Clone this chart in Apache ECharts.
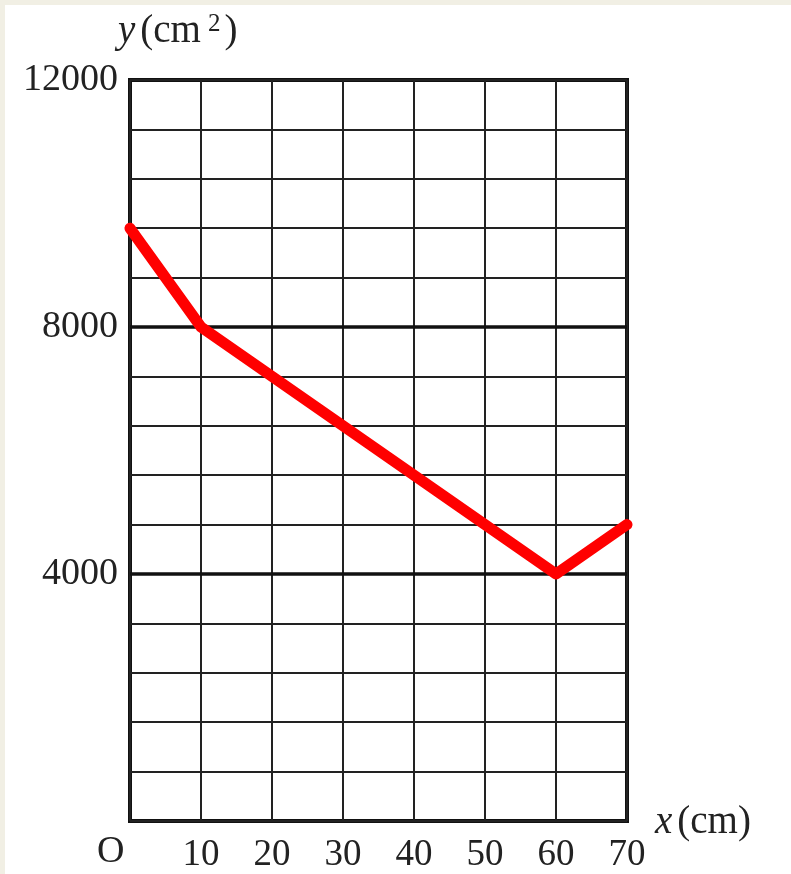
<!DOCTYPE html>
<html><head><meta charset="utf-8">
<script src="https://cdn.jsdelivr.net/npm/echarts@6/dist/echarts.min.js"></script>
<style>html,body{margin:0;padding:0;background:#fff}#c{width:791px;height:874px}</style>
</head><body><div id="c"></div>
<script>
var xValues = [0, 10, 60, 70];
var yValues = [9600, 8000, 4000, 4800];
var xTicks = [10, 20, 30, 40, 50, 60, 70];
var yTickLabels = [4000, 8000, 12000];
var heavyLines = [4000, 8000];

var chart = echarts.init(document.getElementById('c'));
var font = '"Liberation Serif", "DejaVu Serif", serif';
chart.setOption({
  animation: false,
  backgroundColor: '#ffffff',
  grid: {left: 130, right: 164, top: 80, bottom: 53, show: true, borderColor: '#111', borderWidth: 4, backgroundColor: 'transparent'},
  xAxis: {
    type: 'value', min: 0, max: 70, interval: 10,
    axisLine: {show: false}, axisTick: {show: false},
    axisLabel: {fontFamily: font, fontSize: 37, color: '#222', margin: 16,
      formatter: function (v) { return xTicks.indexOf(v) >= 0 ? String(v) : ''; }},
    splitLine: {show: true, lineStyle: {color: '#222', width: 2}}
  },
  yAxis: {
    type: 'value', min: 0, max: 12000, interval: 800,
    axisLine: {show: false}, axisTick: {show: false},
    axisLabel: {fontFamily: font, fontSize: 38, color: '#222', margin: 12,
      formatter: function (v) { return yTickLabels.indexOf(v) >= 0 ? String(v) : ''; }},
    splitLine: {show: true, lineStyle: {color: '#222', width: 2}}
  },
  graphic: [
    {type: 'rect', left: 0, top: 0, shape: {width: 5, height: 874}, style: {fill: '#f1efe4'}, silent: true},
    {type: 'rect', left: 0, top: 0, shape: {width: 791, height: 5}, style: {fill: '#f1efe4'}, silent: true},
    {type: 'text', left: 118, top: 12, style: {rich: {i: {fontFamily: font, fontStyle: 'italic', fontSize: 39, fill: '#222', padding: [0, 5, 0, 0]}, n: {fontFamily: font, fontSize: 39, fill: '#222'}, s: {fontFamily: font, fontSize: 25, fill: '#222', verticalAlign: 'top', padding: [0, 4, 14, 7]}}, text: '{i|y}{n|(cm}{s|2}{n|)}'}},
    {type: 'text', left: 655, top: 803, style: {rich: {i: {fontFamily: font, fontStyle: 'italic', fontSize: 39, fill: '#222', padding: [0, 5, 0, 0]}, n: {fontFamily: font, fontSize: 39, fill: '#222'}}, text: '{i|x}{n|(cm)}'}},
    {type: 'text', left: 97, top: 833, style: {text: 'O', fontFamily: font, fontSize: 38, fill: '#222'}}
  ],
  series: [{
    type: 'line',
    data: xValues.map(function (x, i) { return [x, yValues[i]]; }),
    symbol: 'none',
    lineStyle: {color: '#ff0000', width: 11, cap: 'round', join: 'round'},
    z: 5,
    markLine: {
      silent: true, symbol: 'none', label: {show: false},
      lineStyle: {color: '#111', width: 3.5, type: 'solid'},
      data: heavyLines.map(function (v) { return {yAxis: v}; }),
      z: 3
    }
  }]
});
</script></body></html>
